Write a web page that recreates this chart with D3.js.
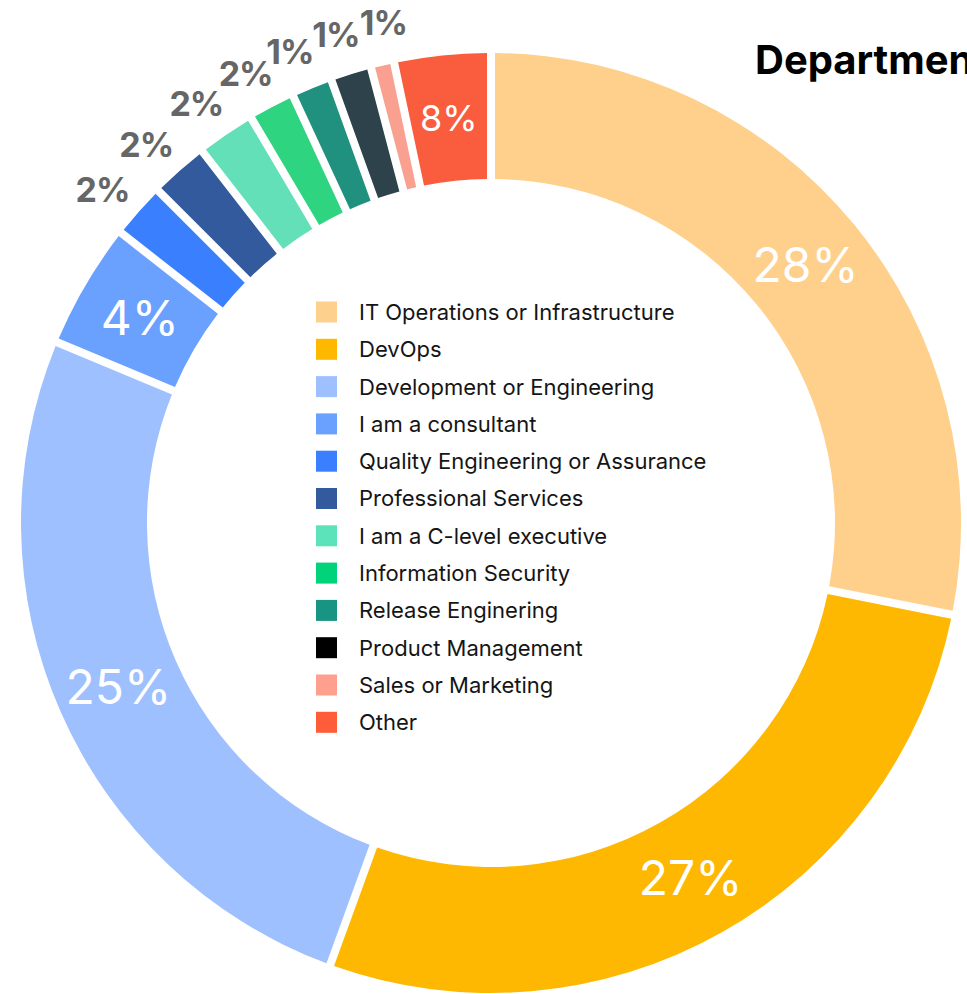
<!DOCTYPE html>
<html>
<head>
<meta charset="utf-8">
<script src="https://cdn.jsdelivr.net/npm/d3@7"></script>
<style>
  html, body { margin: 0; padding: 0; background: #fff; overflow: hidden; }
  svg { display: block; font-family: Inter, 'Noto Sans', sans-serif; }
</style>
</head>
<body>
<div id="chart"></div>
<script>
// department breakdown, slices go clockwise from 12 o'clock
const categories = ['IT Operations or Infrastructure', 'DevOps', 'Development or Engineering',
  'I am a consultant', 'Quality Engineering or Assurance', 'Professional Services',
  'I am a C-level executive', 'Information Security', 'Release Enginering',
  'Product Management', 'Sales or Marketing', 'Other']
// slice sizes as drawn (share of the ring)
const values = [28.1, 27.4, 25.7, 4.3, 1.9, 2.0, 2.0, 1.6, 1.4, 1.4, 0.8, 3.3]
// printed labels
const labels = ['28%', '27%', '25%', '4%', '2%', '2%', '2%', '2%', '1%', '1%', '1%', '8%']
const sliceColors = ['#fed08c', '#ffb801', '#9fc0ff', '#6aa1ff', '#3a80fe', '#325a9c',
  '#63e0b8', '#2ed47f', '#21917f', '#2d424a', '#f9a090', '#fa5c3e']
const legendColors = ['#fdd08d', '#ffb800', '#9fc0ff', '#6aa1ff', '#3a80fe', '#325a9c',
  '#5ce3b9', '#00d37a', '#179482', '#000000', '#ffa08e', '#ff5c3a']
const insideLabel = [true, true, true, true, false, false, false, false, false, false, false, true]

const width = 967
const height = 994
const cx = 491
const cy = 523
const outerR = 470
const innerR = 344
const labelR = 512

const svg = d3.select('#chart').append('svg')
  .attr('width', width)
  .attr('height', height)

const color = d3.scaleOrdinal().domain(categories).range(sliceColors)
const legendColor = d3.scaleOrdinal().domain(categories).range(legendColors)

const pie = d3.pie().sort(null).value(d => d.value)
const arcs = pie(categories.map((c, i) => ({ name: c, value: values[i], label: labels[i], inside: insideLabel[i] })))

const arc = d3.arc()
  .innerRadius(innerR)
  .outerRadius(outerR)
  .padRadius(outerR)
  .padAngle(8 / outerR)

const g = svg.append('g').attr('transform', `translate(${cx},${cy})`)

g.selectAll('path.slice')
  .data(arcs)
  .join('path')
  .attr('class', 'slice')
  .attr('fill', d => color(d.data.name))
  .attr('d', arc)

// white labels inside the big slices
g.selectAll('text.inside')
  .data(arcs.filter(d => d.data.inside))
  .join('text')
  .attr('class', 'inside')
  .attr('transform', d => `translate(${arc.centroid(d)})`)
  .attr('text-anchor', 'middle')
  .attr('dy', '0.36em')
  .attr('fill', '#fff')
  .style('font-size', d => d.data.name === 'Other' ? '36px' : '48px')
  .style('font-weight', 400)
  .text(d => d.data.label)

// grey labels outside the thin ones, pushed apart so they don't collide
const outside = arcs.filter(d => !d.data.inside)
  .map(d => ({ label: d.data.label, a: (d.startAngle + d.endAngle) / 2 }))
const minGap = 5.5 * Math.PI / 180
const meanBefore = d3.mean(outside, d => d.a)
for (let i = 1; i < outside.length; i++) {
  if (outside[i].a < outside[i - 1].a + minGap) outside[i].a = outside[i - 1].a + minGap
}
const shift = meanBefore - d3.mean(outside, d => d.a) - 0.5 * Math.PI / 180
outside.forEach(d => { d.a += shift })

g.selectAll('text.outside')
  .data(outside)
  .join('text')
  .attr('class', 'outside')
  .attr('x', d => labelR * Math.sin(d.a))
  .attr('y', d => -labelR * Math.cos(d.a))
  .attr('text-anchor', 'middle')
  .attr('dy', '0.36em')
  .attr('fill', '#666')
  .style('font-size', '34px')
  .style('font-weight', 700)
  .style('letter-spacing', '-1px')
  .text(d => d.label)

// legend in the hole
const legend = svg.append('g').attr('transform', 'translate(316,312)')
const row = legend.selectAll('g')
  .data(categories)
  .join('g')
  .attr('transform', (d, i) => `translate(0,${i * 37.3})`)
row.append('rect')
  .attr('x', 0)
  .attr('y', -10.5)
  .attr('width', 21)
  .attr('height', 21)
  .attr('fill', d => legendColor(d))
row.append('text')
  .attr('x', 43)
  .attr('dy', '0.36em')
  .attr('fill', '#151515')
  .style('font-size', '22px')
  .text(d => d)

// title, runs off the right edge like the original
svg.append('text')
  .attr('x', 755)
  .attr('y', 74)
  .attr('fill', '#000')
  .style('font-size', '40px')
  .style('font-weight', 700)
  .text('Department')
</script>
</body>
</html>
